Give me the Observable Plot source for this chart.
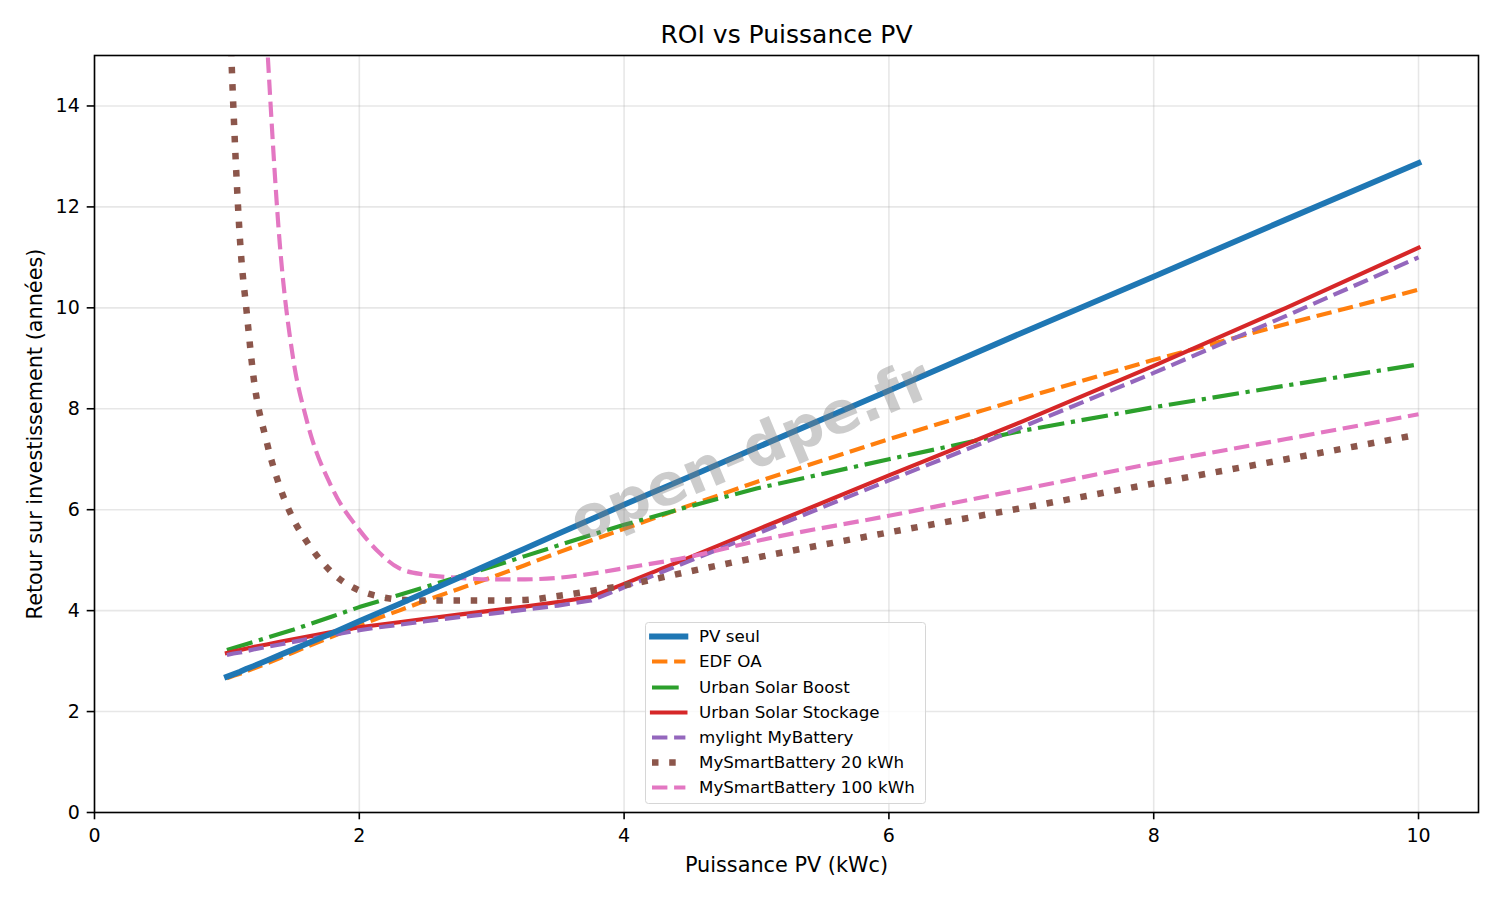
<!DOCTYPE html>
<html>
<head>
<meta charset="utf-8">
<script src="https://cdn.jsdelivr.net/npm/d3@7"></script>
<script src="https://cdn.jsdelivr.net/npm/@observablehq/plot@0.6"></script>
<style>
  body { margin: 0; background: #fff; font-family: "DejaVu Sans", sans-serif; }
  #wrap { position: relative; width: 1500px; height: 900px; }
  #legend { position: absolute; left: 645px; top: 621.5px; width: 281px; height: 182px; box-sizing: border-box;
            border: 1.3px solid #d6d6d6; border-radius: 3.5px; background: rgba(255,255,255,0.8); }
  .row { position: absolute; left: 0; width: 100%; height: 25px; }
  .row svg { position: absolute; left: 0; top: 0; }
  .row span { position: absolute; left: 53px; top: 0; height: 25px; line-height: 25px; font-size: 16.7px; color: #000; white-space: nowrap; }
  #wm { position: absolute; left: 750px; top: 450px; transform: translate(-50%, -50%) rotate(-22.6deg);
        font: bold 58px "DejaVu Sans"; line-height: 1; color: rgba(128,128,128,0.4); white-space: nowrap; pointer-events: none; }
</style>
</head>
<body>
<div id="wrap"></div>
<script>
// ---- data ----
const xs = [1, 1.05, 1.1, 1.15, 1.2, 1.3, 1.4, 1.5, 1.6, 1.8, 2, 2.15, 2.3, 2.5, 2.75, 3, 3.25, 3.5, 3.75, 4, 4.5, 5, 6, 7, 8, 9, 10];
const pvSeul     = [2.69, 2.74, 2.79, 2.85, 2.90, 3.01, 3.12, 3.23, 3.34, 3.56, 3.79, 3.96, 4.13, 4.36, 4.65, 4.94, 5.23, 5.52, 5.81, 6.10, 6.66, 7.23, 8.36, 9.50, 10.62, 11.75, 12.87];
const edfOA      = [2.66, 2.71, 2.75, 2.80, 2.85, 2.95, 3.06, 3.17, 3.28, 3.49, 3.71, 3.86, 4.00, 4.20, 4.43, 4.66, 4.90, 5.15, 5.39, 5.62, 6.09, 6.55, 7.40, 8.20, 8.97, 9.68, 10.36];
const urbanBoost = [3.22, 3.26, 3.30, 3.34, 3.38, 3.46, 3.54, 3.62, 3.71, 3.89, 4.07, 4.19, 4.31, 4.47, 4.67, 4.87, 5.08, 5.29, 5.50, 5.70, 6.07, 6.42, 7.00, 7.56, 8.03, 8.46, 8.88];
const urbanStock = [3.16, 3.19, 3.22, 3.25, 3.28, 3.33, 3.38, 3.43, 3.48, 3.58, 3.67, 3.72, 3.77, 3.84, 3.92, 4.00, 4.08, 4.17, 4.27, 4.53, 5.06, 5.60, 6.68, 7.74, 8.85, 10.00, 11.19];
const mylight    = [3.12, 3.15, 3.17, 3.20, 3.23, 3.28, 3.33, 3.38, 3.43, 3.52, 3.61, 3.67, 3.72, 3.79, 3.87, 3.94, 4.02, 4.10, 4.20, 4.46, 4.99, 5.52, 6.58, 7.63, 8.71, 9.84, 11.00];
const msb20      = [17.5, 13.9, 11.3, 9.9, 8.65, 7.35, 6.45, 5.82, 5.38, 4.74, 4.40, 4.28, 4.22, 4.20, 4.20, 4.20, 4.21, 4.29, 4.39, 4.50, 4.78, 5.05, 5.55, 6.03, 6.52, 7.00, 7.49];
const msb100     = [null, null, null, null, null, 15.4, 11.25, 9.0, 7.8, 6.4, 5.6, 5.15, 4.84, 4.71, 4.65, 4.62, 4.62, 4.65, 4.73, 4.84, 5.07, 5.38, 5.88, 6.40, 6.92, 7.40, 7.89];

const seriesNames = ["PV seul", "EDF OA", "Urban Solar Boost", "Urban Solar Stockage", "mylight MyBattery", "MySmartBattery 20 kWh", "MySmartBattery 100 kWh"];
const seriesValues = [pvSeul, edfOA, urbanBoost, urbanStock, mylight, msb20, msb100];
const seriesColors = ["#1f77b4", "#ff7f0e", "#2ca02c", "#d62728", "#9467bd", "#8c564b", "#e377c2"];
const xTicks = [0, 2, 4, 6, 8, 10];
const yTicks = [0, 2, 4, 6, 8, 10, 12, 14];
const titleText = "ROI vs Puissance PV";
const xLabel = "Puissance PV (kWc)";
const yLabel = "Retour sur investissement (années)";
const watermark = "open-dpe.fr";

// ---- line styles (matplotlib-like) ----
const styles = [
  {strokeWidth: 5.8, strokeLinecap: "square"},
  {strokeWidth: 4.17, strokeDasharray: "15.4,6.7", strokeLinecap: "butt"},
  {strokeWidth: 4.17, strokeDasharray: "26.7,6.7,4.2,6.7", strokeLinecap: "butt"},
  {strokeWidth: 4.17, strokeLinecap: "square"},
  {strokeWidth: 4.17, strokeDasharray: "15.4,6.7", strokeLinecap: "butt"},
  {strokeWidth: 6.5, strokeDasharray: "6.5,10.7", strokeLinecap: "butt", curve: "monotone-x"},
  {strokeWidth: 4.17, strokeDasharray: "15.4,6.7", strokeLinecap: "butt", curve: "monotone-x"}
];

const lineMarks = seriesValues.map((vals, i) => {
  const rows = xs.map((x, j) => ({x, y: vals[j]})).filter(d => d.y != null);
  return Plot.line(rows, {x: "x", y: "y", stroke: seriesColors[i], strokeLinejoin: "round", clip: true, ...styles[i]});
});
// "PV seul" is drawn on top of the other series
const orderedLines = [...lineMarks.slice(1), lineMarks[0]];

const chart = Plot.plot({
  width: 1500,
  height: 900,
  marginLeft: 94,
  marginRight: 22,
  marginTop: 55,
  marginBottom: 88,
  style: {fontFamily: "DejaVu Sans", background: "white", color: "black", overflow: "visible"},
  x: {domain: [0, 10.453]},
  y: {domain: [0, 15]},
  marks: [
    Plot.ruleX(xTicks, {stroke: "#b0b0b0", strokeOpacity: 0.3, strokeWidth: 1.6}),
    Plot.ruleY(yTicks, {stroke: "#b0b0b0", strokeOpacity: 0.3, strokeWidth: 1.6}),
    ...orderedLines,
    Plot.frame({stroke: "black", strokeWidth: 1.6}),
    Plot.axisX({ticks: xTicks, tickSize: 7.3, tickPadding: 9, fontSize: 19, label: null, strokeWidth: 1.6, tickFormat: d => String(d)}),
    Plot.axisY({ticks: yTicks, tickSize: 7.3, tickPadding: 7.4, fontSize: 19, label: null, strokeWidth: 1.6, tickFormat: d => String(d)}),
    Plot.text([titleText], {frameAnchor: "top", dy: -20.7, lineAnchor: "middle", textAnchor: "middle", fontSize: 25, text: d => d, fill: "black"}),
    Plot.text([xLabel], {frameAnchor: "bottom", dy: 53, lineAnchor: "middle", textAnchor: "middle", fontSize: 20.8, text: d => d, fill: "black"}),
    Plot.text([yLabel], {frameAnchor: "left", dx: -58.7, rotate: -90, lineAnchor: "middle", textAnchor: "middle", fontSize: 20.8, text: d => d, fill: "black"})
  ]
});

const wrap = document.getElementById("wrap");
wrap.appendChild(chart);

// watermark (figure-centred, on top)
const wm = document.createElement("div");
wm.id = "wm";
wm.textContent = watermark;
wrap.appendChild(wm);

// legend (lower center of the axes)
const legend = document.createElement("div");
legend.id = "legend";
seriesNames.forEach((name, i) => {
  const row = document.createElement("div");
  row.className = "row";
  row.style.top = (14.2 + 25.15 * i - 12.5) + "px";
  const s = styles[i];
  const svgNS = "http://www.w3.org/2000/svg";
  const svg = document.createElementNS(svgNS, "svg");
  svg.setAttribute("width", "50");
  svg.setAttribute("height", "25");
  const ln = document.createElementNS(svgNS, "line");
  ln.setAttribute("x1", "6");
  ln.setAttribute("x2", "39.4");
  ln.setAttribute("y1", "12.5");
  ln.setAttribute("y2", "12.5");
  ln.setAttribute("stroke", seriesColors[i]);
  ln.setAttribute("stroke-width", s.strokeWidth);
  ln.setAttribute("stroke-linecap", s.strokeLinecap);
  if (s.strokeDasharray) ln.setAttribute("stroke-dasharray", s.strokeDasharray);
  svg.appendChild(ln);
  row.appendChild(svg);
  const sp = document.createElement("span");
  sp.textContent = name;
  row.appendChild(sp);
  legend.appendChild(row);
});
wrap.appendChild(legend);
</script>
</body>
</html>
